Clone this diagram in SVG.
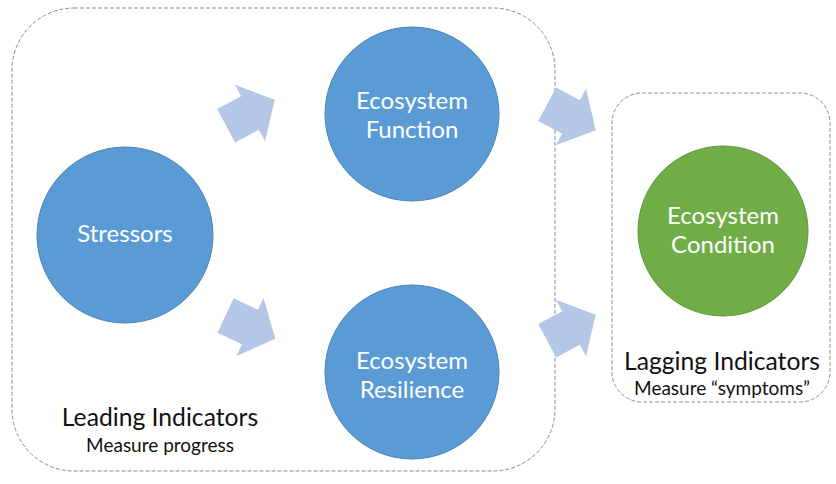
<svg xmlns="http://www.w3.org/2000/svg" width="836" height="484" viewBox="0 0 836 484">
  <style>
    .blue { fill: #5b9bd5; stroke: #4a84ba; stroke-width: 1; }
    .green { fill: #70ad47; stroke: #5f9438; stroke-width: 1; }
    .in { fill: #ffffff; font-family: Lato, "Open Sans", sans-serif; font-size: 24px; text-anchor: middle; }
    .title { fill: #111111; font-family: Lato, "Open Sans", sans-serif; font-size: 24.7px; text-anchor: middle; }
    .sub { fill: #111111; font-family: Lato, "Open Sans", sans-serif; font-size: 19px; text-anchor: middle; }
    .frame { fill: none; stroke-width: 1; stroke-dasharray: 4 2; }
    .arrow { fill: #b4c7e7; }
  </style>
  <defs>
    <polygon id="blockArrow" points="-27,-19 0,-19 0,-32 28,0 0,32 0,19 -27,19"/>
  </defs>
  <rect width="836" height="484" fill="#ffffff"/>

  <!-- indicator groupings -->
  <g id="leading-group">
    <rect class="frame" x="12" y="8" width="543" height="463" rx="62" ry="62" stroke="#7d8ea8"/>
    <text class="title" x="160" y="426">Leading Indicators</text>
    <text class="sub" x="160" y="452">Measure progress</text>
  </g>
  <g id="lagging-group">
    <rect class="frame" x="612" y="93" width="218" height="309" rx="30" ry="30" stroke="#9a9080"/>
    <text class="title" x="722" y="370">Lagging Indicators</text>
    <text class="sub" x="722" y="395">Measure “symptoms”</text>
  </g>

  <!-- nodes -->
  <g id="stressors">
    <circle class="blue" cx="125" cy="235" r="88"/>
    <text class="in" x="125" y="242">Stressors</text>
  </g>
  <g id="ecosystem-function">
    <circle class="blue" cx="412" cy="114" r="87"/>
    <text class="in" x="412" y="109">Ecosystem</text>
    <text class="in" x="412" y="138">Function</text>
  </g>
  <g id="ecosystem-resilience">
    <circle class="blue" cx="412" cy="372" r="87"/>
    <text class="in" x="412" y="368.5">Ecosystem</text>
    <text class="in" x="412" y="397.5">Resilience</text>
  </g>
  <g id="ecosystem-condition">
    <circle class="green" cx="723" cy="231" r="85"/>
    <text class="in" x="723" y="224">Ecosystem</text>
    <text class="in" x="723" y="253">Condition</text>
  </g>

  <!-- connectors -->
  <g id="connectors">
    <use href="#blockArrow" class="arrow" transform="translate(250,113) rotate(-28)"/>
    <use href="#blockArrow" class="arrow" transform="translate(250,327) rotate(25)"/>
    <use href="#blockArrow" class="arrow" transform="translate(571,117) rotate(28)"/>
    <use href="#blockArrow" class="arrow" transform="translate(571,328) rotate(-28)"/>
  </g>
</svg>
